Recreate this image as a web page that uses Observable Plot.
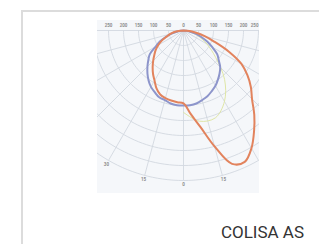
<!DOCTYPE html>
<html><head><meta charset="utf-8">
<script src="https://cdn.jsdelivr.net/npm/d3@7"></script>
<script src="https://cdn.jsdelivr.net/npm/@observablehq/plot@0.6"></script>
<style>
html,body{margin:0;padding:0;background:#fff;width:319px;height:244px;overflow:hidden;position:relative;}
#frame{position:absolute;left:21px;top:10px;width:400px;height:400px;border-top:2px solid #dcdcdc;border-left:2px solid #dcdcdc;}
#chart{position:absolute;left:97px;top:20px;line-height:0;}
#caption{position:absolute;left:0;width:304px;top:224px;text-align:right;font-family:Roboto,sans-serif;font-size:17px;line-height:17px;color:#333;}
</style>
</head><body>
<div id="frame"></div>
<div id="chart"></div>
<div id="caption">COLISA AS</div>
<script>
// Angles (degrees from nadir, negative = left half-plane)
const angles = [-90,-85,-80,-75,-70,-65,-60,-55,-50,-45,-40,-35,-30,-25,-20,-15,-10,-5,0,5,10,15,20,25,30,35,40,45,50,55,60,65,70,75,80,85,90];
// Intensity, cd/klm — C0/C180 plane (blue)
const blueC0 = [0,10,23,43,63,87,107,137,153,170,187,203,217,227,237,240,247,250,250,250,247,240,233,223,213,200,187,173,153,137,110,87,63,43,23,10,0];
// Intensity, cd/klm — C90/C270 plane (orange)
const orangeC90 = [0,17,33,47,60,80,97,113,127,143,160,177,193,213,227,233,237,240,243,280,327,400,473,483,453,410,367,323,293,260,223,167,110,73,40,20,0];
// Faint third plane (yellow-green)
const faintAngles = [0,10,20,30,40,50,60,70,80,90];
const faintC45 = [273,307,310,273,213,140,90,50,20,0];
// Grid
const gridRadii = [50,100,150,200,250,300,350,400,450,500];
const radiusLabels = [-250,-200,-150,-100,-50,0,50,100,150,200];
const radiusLabelEdge = [250];
const spokeAngles = [-90,-75,-60,-45,-30,-15,0,15,30,45,60,75,90];
const labeledAngles = [-30,-15,0,15];

const rad = a => a * Math.PI / 180;
const px = d => d.v * Math.sin(rad(d.a));
const py = d => d.v * Math.cos(rad(d.a));

const series = (ang, vals) => ang.map((a, i) => ({a, v: vals[i]}));
const circlePts = gridRadii.flatMap(r => d3.range(-90, 90.1, 2).map(a => ({a, v: r, r})));
const spokes = spokeAngles.map(a => ({a, v: 500}));
const angleLabels = labeledAngles.map(a => ({a, v: 514}));

const lab = {fontSize: 4.5, fontWeight: "bold", fill: "#8d8d8d"};
const chart = Plot.plot({
  width: 162, height: 173, margin: 0,
  x: {domain: [-286.7, 253.3], axis: null},
  y: {domain: [543.3, -33.3], axis: null},
  style: {background: "#f5f7fa", fontFamily: "Roboto, sans-serif"},
  marks: [
    Plot.line(circlePts, {x: px, y: py, z: "r", stroke: "#d2d8e0", strokeWidth: 0.9, clip: true}),
    Plot.link(spokes, {x1: 0, y1: 0, x2: px, y2: py, stroke: "#d2d8e0", strokeWidth: 0.9, clip: true}),
    Plot.text(radiusLabels, {x: d => d, y: -17, text: d => String(Math.abs(d)), ...lab}),
    Plot.text(radiusLabelEdge, {x: d => d, y: -17, text: d => String(Math.abs(d)), textAnchor: "end", dx: 0, ...lab}),
    Plot.text(angleLabels, {x: px, y: py, text: d => String(Math.abs(d.a)), ...lab}),
    Plot.line(series(faintAngles, faintC45), {x: px, y: py, curve: "catmull-rom", stroke: "#dfe6a6", strokeWidth: 1, clip: true}),
    Plot.line(series(angles, blueC0), {x: px, y: py, curve: "catmull-rom", stroke: "#8d95cb", strokeWidth: 2, clip: true}),
    Plot.line(series(angles, orangeC90), {x: px, y: py, curve: "catmull-rom", stroke: "#e2835d", strokeWidth: 2, clip: true})
  ]
});
document.getElementById("chart").appendChild(chart);
</script>
</body></html>
